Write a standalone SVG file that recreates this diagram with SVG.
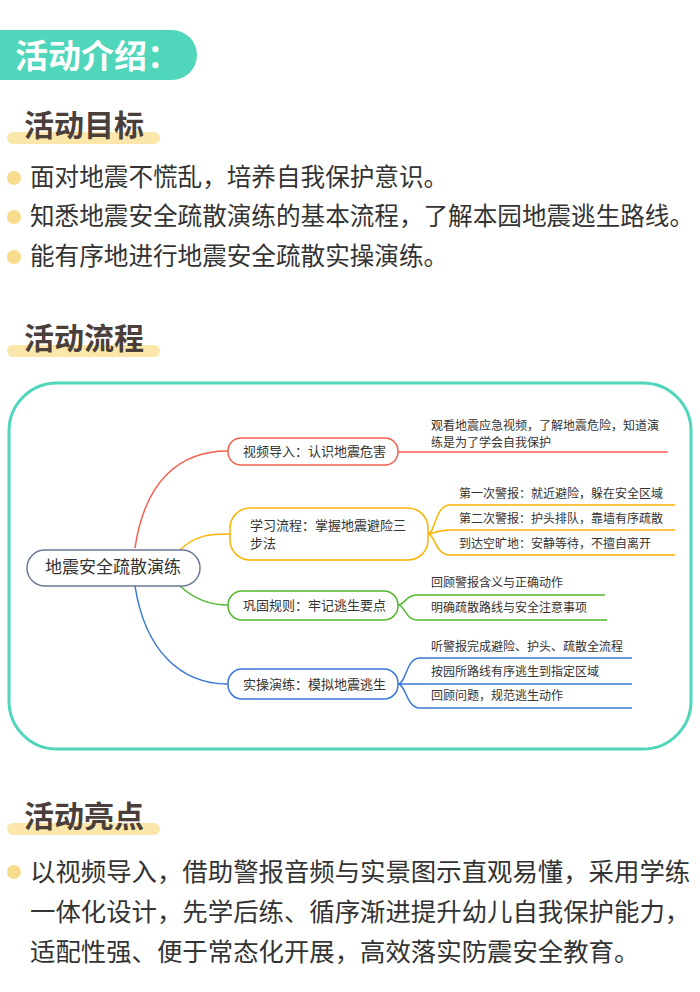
<svg xmlns="http://www.w3.org/2000/svg" width="700" height="992" viewBox="0 0 700 992">
<style>
text{font-family:"Noto Sans CJK SC","Noto Sans",sans-serif}
.h{font-size:30px;font-weight:bold;fill:#4a3f3a}
.bar{fill:#fbe7a9}
.b{font-size:24.6px;fill:#333}
.p{font-size:25.4px;fill:#333}
.dot{fill:#f8dc8c}
.n{font-size:13px;fill:#333}
.c{font-size:12px;fill:#333}
.nd{fill:#fff;stroke-width:1.5}
.ln{fill:none;stroke-width:1.5}
</style>
<rect width="700" height="992" fill="#fff"/>
<path d="M0 30 H172 A25 25 0 0 1 172 80 H0 Z" fill="#4fd6bb"/>
<text x="15" y="68" font-size="33" font-weight="bold" fill="#fff">活动介绍：</text>
<rect class="bar" x="7" y="132" width="153" height="12" rx="6"/>
<text class="h" x="24" y="136">活动目标</text>
<circle class="dot" cx="14" cy="178" r="7"/><text class="b" x="30" y="186">面对地震不慌乱，培养自我保护意识。</text>
<circle class="dot" cx="14" cy="217" r="7"/><text class="b" x="30" y="225">知悉地震安全疏散演练的基本流程，了解本园地震逃生路线。</text>
<circle class="dot" cx="14" cy="257" r="7"/><text class="b" x="30" y="265">能有序地进行地震安全疏散实操演练。</text>
<rect class="bar" x="7" y="345" width="153" height="12" rx="6"/>
<text class="h" x="24" y="349">活动流程</text>
<rect x="9" y="383" width="682" height="366" rx="48" fill="#fff" stroke="#4fd6bb" stroke-width="3"/>
<g id="connectors">
<path class="ln" stroke="#f4604f" d="M135 548 C145 480 180 451 228 451"/>
<path class="ln" stroke="#fdb300" d="M180 550 C195 535 210 534 230 534"/>
<path class="ln" stroke="#52b82f" d="M180 586 C195 600 210 605 228 605"/>
<path class="ln" stroke="#3a78d6" d="M135 586 C145 650 180 684 228 684"/>
<path class="ln" stroke="#f4604f" d="M398 452 H668"/>
<path class="ln" stroke="#fdb300" d="M428 534 C435 534 435 505 450 505 H675 M428 534 C435 534 435 530 450 530 H675 M428 534 C435 534 435 555 450 555 H675"/>
<path class="ln" stroke="#52b82f" d="M398 605 C405 605 405 595 418 595 H605 M398 605 C405 605 405 620 418 620 H607"/>
<path class="ln" stroke="#3a78d6" d="M398 684 C406 684 406 658 420 658 H632 M398 684 H632 M398 684 C406 684 406 708 420 708 H632"/>
</g>
<g id="center"><rect class="nd" x="27" y="550" width="173" height="36" rx="18" stroke="#6b7a99"/><text x="113" y="573" font-size="17" text-anchor="middle" fill="#333">地震安全疏散演练</text></g>
<g id="n1"><rect class="nd" x="228" y="438" width="170" height="27" rx="13" stroke="#f4604f"/><text class="n" x="243" y="456">视频导入：认识地震危害</text>
<text class="c" x="431" y="430">观看地震应急视频，了解地震危险，知道演</text><text class="c" x="431" y="447">练是为了学会自我保护</text></g>
<g id="n2"><rect class="nd" x="230" y="508" width="198" height="52" rx="20" stroke="#fdb300"/><text class="n" x="250" y="530">学习流程：掌握地震避险三</text><text class="n" x="250" y="548">步法</text>
<text class="c" x="459" y="498">第一次警报：就近避险，躲在安全区域</text><text class="c" x="459" y="523">第二次警报：护头排队，靠墙有序疏散</text><text class="c" x="459" y="548">到达空旷地：安静等待，不擅自离开</text></g>
<g id="n3"><rect class="nd" x="228" y="591" width="170" height="29" rx="14" stroke="#52b82f"/><text class="n" x="243" y="610">巩固规则：牢记逃生要点</text>
<text class="c" x="431" y="587">回顾警报含义与正确动作</text><text class="c" x="431" y="612">明确疏散路线与安全注意事项</text></g>
<g id="n4"><rect class="nd" x="228" y="669" width="170" height="30" rx="14" stroke="#3a78d6"/><text class="n" x="243" y="689">实操演练：模拟地震逃生</text>
<text class="c" x="431" y="651">听警报完成避险、护头、疏散全流程</text><text class="c" x="431" y="676">按园所路线有序逃生到指定区域</text><text class="c" x="431" y="700">回顾问题，规范逃生动作</text></g>
<rect class="bar" x="7" y="823" width="153" height="12" rx="6"/>
<text class="h" x="24" y="827">活动亮点</text>
<circle class="dot" cx="14" cy="872" r="7"/>
<text class="p" x="30" y="881">以视频导入，借助警报音频与实景图示直观易懂，采用学练</text>
<text class="p" x="30" y="921">一体化设计，先学后练、循序渐进提升幼儿自我保护能力，</text>
<text class="p" x="30" y="961">适配性强、便于常态化开展，高效落实防震安全教育。</text>
</svg>
